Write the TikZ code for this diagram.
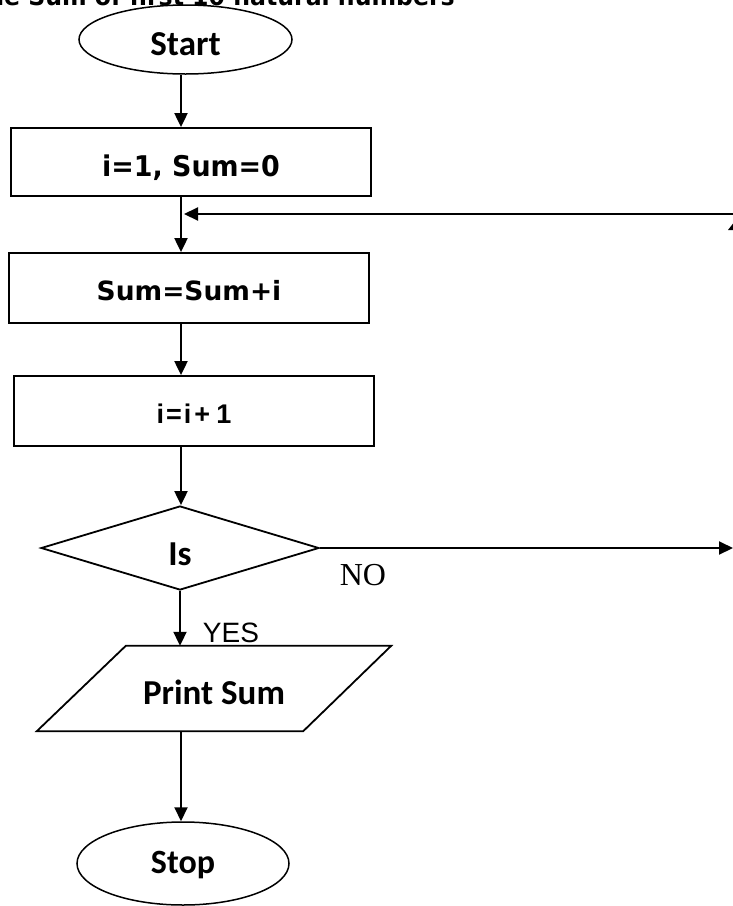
\documentclass[tikz,border=0pt]{standalone}
\usepackage{fontspec}
\newfontfamily\fdeja{DejaVu Sans}
\newfontfamily\fdejan[FakeStretch=0.944]{DejaVu Sans}
\newfontfamily\fcarl{Carlito}
\newfontfamily\flib{Liberation Sans}
\newfontfamily\fser{Liberation Serif}
\usetikzlibrary{shapes.geometric,arrows.meta}
\begin{document}
\begin{tikzpicture}[x=1pt,y=-1pt,
  shp/.style={draw,line width=1.8pt,inner sep=0pt},
  arr/.style={line width=2pt,-{Triangle[length=14pt,width=13pt]}},
  carl/.style={font=\fcarl\bfseries\fontsize{35pt}{40pt}\selectfont},
  deja/.style={font=\fdeja\bfseries\fontsize{26.5pt}{30pt}\selectfont}]
\useasboundingbox (0,0) rectangle (733,906);
\clip (0,0) rectangle (733,906);

\node[font=\fdejan\bfseries\fontsize{25pt}{28pt}\selectfont, anchor=base east, inner sep=0pt] (title) at (455,5) {the Sum of first 10 natural numbers};

\node[shp, ellipse, line width=1.5pt, minimum width=213pt, minimum height=69pt, carl, text height=31pt, text depth=0pt] (start) at (185.5,39.5) {Start};

\node[shp, rectangle, minimum width=360pt, minimum height=68pt, font=\fdejan\bfseries\fontsize{28.5pt}{32pt}\selectfont, text height=29.8pt, text depth=0pt] (init) at (191,162) {i=1, Sum=0};

\node[shp, rectangle, minimum width=360pt, minimum height=70pt, deja, text height=25.3pt, text depth=0pt] (acc) at (189,288) {Sum=Sum+i};

\node[shp, rectangle, minimum width=360pt, minimum height=70pt, font=\flib\bfseries\fontsize{27pt}{30pt}\selectfont, text height=25.3pt, text depth=0pt] (inc) at (194,411) {i\kern2pt=\kern2pt i\kern3pt+\kern6pt1};

\node[shp, diamond, minimum width=278pt, minimum height=84pt, carl, text height=34pt, text depth=0pt] (dec) at (180,548) {Is};

\node[rectangle, inner sep=0pt, minimum width=266pt, minimum height=85pt, carl, text height=32pt, text depth=0pt] (print) at (214,688.5) {Print Sum};
\draw[line width=1.8pt, line join=miter] ([xshift=-44pt]print.south west) -- ([xshift=45pt]print.north west) -- ([xshift=44pt]print.north east) -- ([xshift=-44pt]print.south east) -- cycle;

\node[shp, ellipse, line width=1.5pt, minimum width=212pt, minimum height=83pt, font=\fcarl\bfseries\fontsize{34pt}{40pt}\selectfont, text height=19.5pt, text depth=0pt] (stop) at (183,863.5) {Stop};

\coordinate (ax) at (181,0);
\draw[arr] (start.south -| ax) -- (init.north -| ax);
\draw[arr] (init.south -| ax) -- (acc.north -| ax);
\draw[arr] (acc.south -| ax) -- (inc.north -| ax);
\draw[arr] (inc.south -| ax) -- (dec.north -| ax);
\draw[arr] (dec.south) -- (dec.south |- print.north);
\draw[arr] (print.south -| ax) -- (stop.north -| ax);

\coordinate (loopR) at (733,214);
\coordinate (loopT) at (184,214);
\draw[arr] (loopR) -- (loopT);

\coordinate (noR) at (733,548);
\draw[arr] (dec.east) -- (noR);

\node[font=\fser\fontsize{32pt}{36pt}\selectfont, text height=21pt, text depth=0pt, inner sep=0pt] (nolab) at (363,575) {NO};
\node[font=\flib\fontsize{28pt}{32pt}\selectfont, text height=20pt, text depth=0pt, inner sep=0pt] (yeslab) at (231,632) {YES};

\fill (728,230) -- (737,230) -- (735,221) -- cycle;
\end{tikzpicture}
\end{document}
